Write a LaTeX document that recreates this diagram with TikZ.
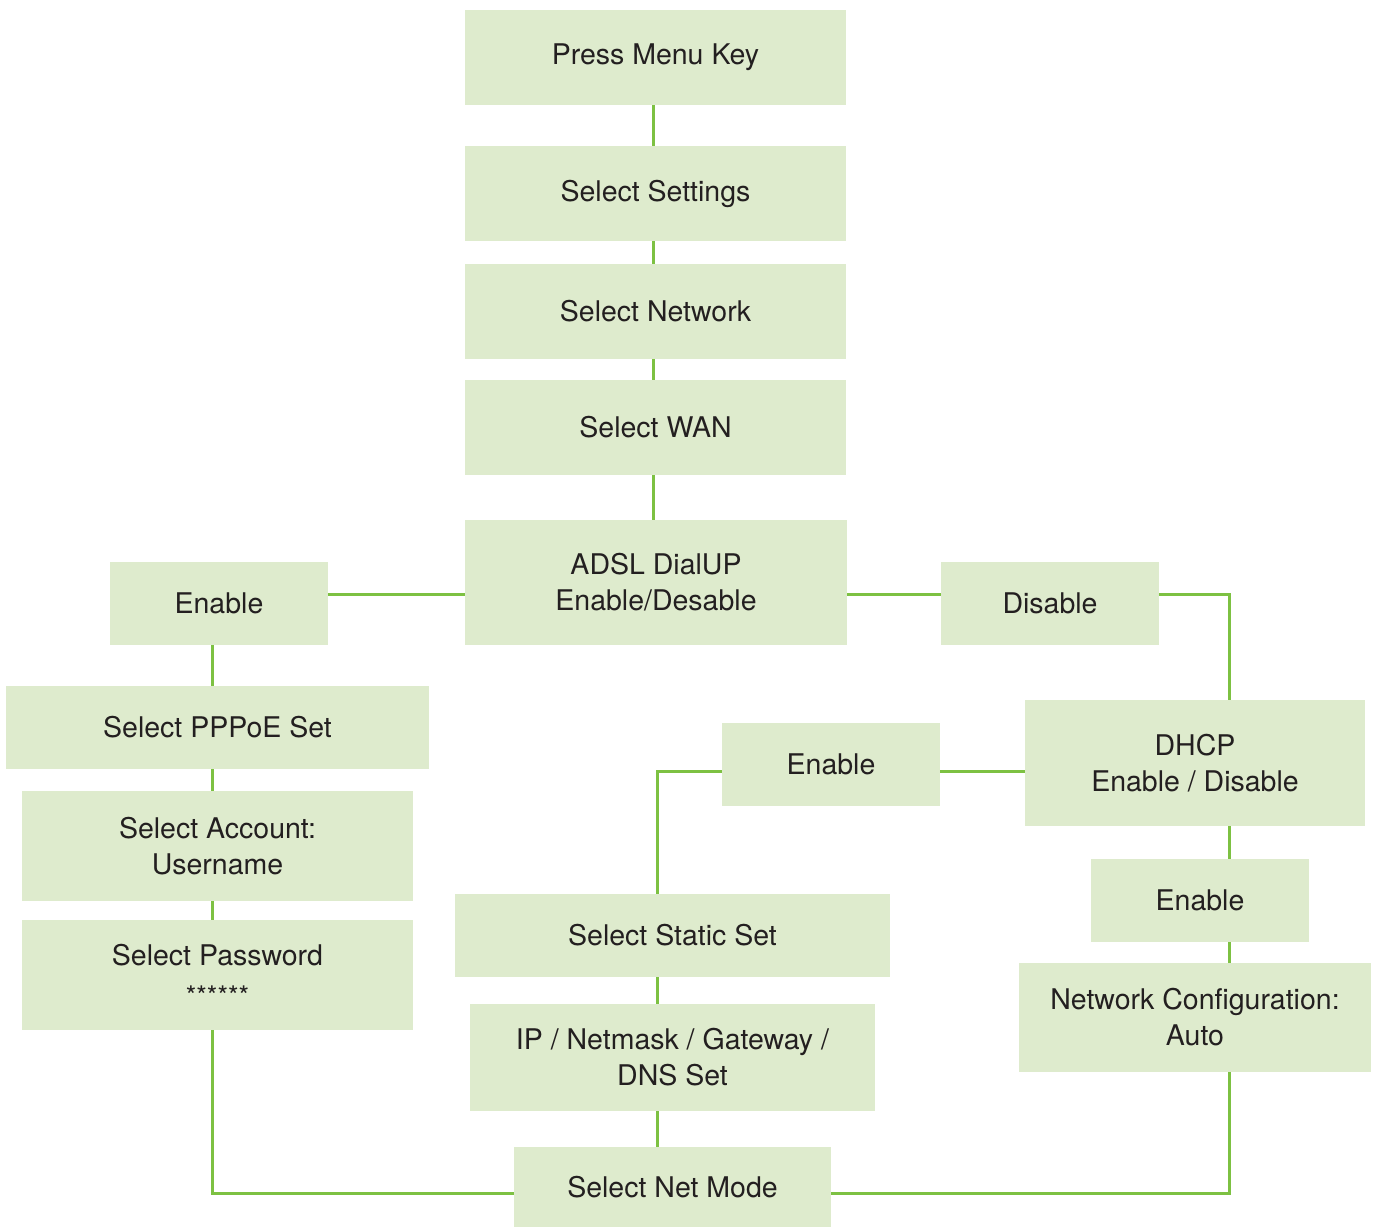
\documentclass[tikz,border=0pt]{standalone}
\usepackage{fontspec}
\setmainfont{TeX Gyre Heros}
\definecolor{boxfill}{HTML}{DEEBCD}
\definecolor{linegreen}{HTML}{7DC142}
\definecolor{txt}{HTML}{231F20}
\begin{document}
\begin{tikzpicture}[x=1pt,y=-1pt,
  box/.style={rectangle, fill=boxfill, draw=none, inner sep=0pt, align=center,
    text=txt, font=\fontsize{28.5}{36}\selectfont},
  conn/.style={draw=linegreen, line width=3pt}]
\useasboundingbox (0,0) rectangle (1379,1227);
\newcommand{\bx}[7]{\node[box, minimum width=#4-#3, minimum height=#6-#5] (#1) at ({(#3+#4)/2},{(#5+#6)/2}) {#7};}
% nodes
\bx{menu}{}{465}{846}{10}{105}{Press Menu Key}
\bx{settings}{}{465}{846}{146}{241}{Select Settings}
\bx{network}{}{465}{846}{264}{359}{Select Network}
\bx{wan}{}{465}{846}{380}{475}{Select WAN}
\bx{adsl}{}{465}{847}{520}{645}{ADSL DialUP\\Enable/Desable}
\bx{enl}{}{110}{328}{562}{645}{Enable}
\bx{dis}{}{941}{1159}{562}{645}{Disable}
\bx{dhcp}{}{1025}{1365}{700}{826}{DHCP\\Enable / Disable}
\bx{enm}{}{722}{940}{723}{806}{Enable}
\bx{pppoe}{}{6}{429}{686}{769}{Select PPPoE Set}
\bx{acct}{}{22}{413}{791}{901}{Select Account:\\Username}
\bx{pw}{}{22}{413}{920}{1030}{Select Password\\[4pt]{\fontsize{27}{27}\selectfont ******}}
\bx{static}{}{455}{890}{894}{977}{Select Static Set}
\bx{ip}{}{470}{875}{1004}{1111}{IP / Netmask / Gateway /\\DNS Set}
\bx{mode}{}{514}{831}{1147}{1227}{Select Net Mode}
\bx{enr}{}{1091}{1309}{859}{942}{Enable}
\bx{auto}{}{1019}{1371}{963}{1072}{Network Configuration:\\Auto}
% column coordinates
\coordinate (cc) at (653,0);
\coordinate (lc) at (212,0);
\coordinate (mc) at (657,0);
\coordinate (rc) at (1229,0);
\coordinate (by) at (0,1193);
\coordinate (ay) at (0,594);
\coordinate (dy) at (0,771);
% connectors
\draw[conn] (cc |- menu.south) -- (cc |- settings.north);
\draw[conn] (cc |- settings.south) -- (cc |- network.north);
\draw[conn] (cc |- network.south) -- (cc |- wan.north);
\draw[conn] (cc |- wan.south) -- (cc |- adsl.north);
\draw[conn] (adsl.west |- ay) -- (enl.east |- ay);
\draw[conn] (adsl.east |- ay) -- (dis.west |- ay);
\draw[conn] (dis.east |- ay) -- (rc |- ay) -- (rc |- dhcp.north);
\draw[conn] (dhcp.west |- dy) -- (enm.east |- dy);
\draw[conn] (enm.west |- dy) -- (mc |- dy) -- (mc |- static.north);
\draw[conn] (mc |- static.south) -- (mc |- ip.north);
\draw[conn] (mc |- ip.south) -- (mc |- mode.north);
\draw[conn] (lc |- enl.south) -- (lc |- pppoe.north);
\draw[conn] (lc |- pppoe.south) -- (lc |- acct.north);
\draw[conn] (lc |- acct.south) -- (lc |- pw.north);
\draw[conn] (lc |- pw.south) -- (lc |- by) -- (mode.west |- by);
\draw[conn] (rc |- dhcp.south) -- (rc |- enr.north);
\draw[conn] (rc |- enr.south) -- (rc |- auto.north);
\draw[conn] (rc |- auto.south) -- (rc |- by) -- (mode.east |- by);
\end{tikzpicture}
\end{document}
